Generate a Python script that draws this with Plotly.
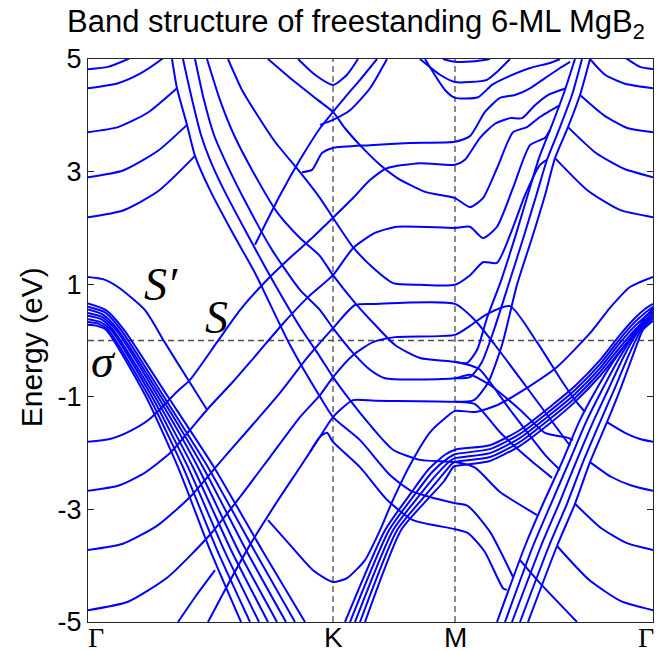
import plotly.graph_objects as go

# ---------------- axes / labels ----------------
# k-path coordinate (arbitrary units proportional to path length)
path_ticks = [0, 245, 367, 565]
path_labels = ["Γ", "K", "M", "Γ"]
energy_ticks = [-5, -3, -1, 1, 3, 5]
energy_labels = ["-5", "-3", "-1", "1", "3", "5"]

# ---------------- band data (k, E in eV) ----------------
# free-electron-like parabolas at left Γ (upper)
gk_upper_k = [[0, 20, 40, 47], [0, 30, 52, 74, 80], [0, 30, 60, 89], [0, 35, 70, 99], [0, 35, 70, 107]]
gk_upper_e = [[4.82, 4.86, 5.0, 5.06], [4.48, 4.57, 4.74, 5.0, 5.09], [3.70, 3.79, 4.05, 4.48],
              [2.90, 3.02, 3.37, 3.83], [2.19, 2.31, 2.65, 3.28]]

# rising (lower-cone) bands, Γ -> K -> M -> (toward Γ)
rise_k = [
    [167, 192, 212, 232, 245, 257, 272, 289],
    [0, 22, 42, 62, 89, 102, 129, 152, 177, 202, 224, 245, 265, 282, 299, 332, 367, 377, 392, 407, 422, 434, 447, 460, 478],
    [0, 30, 55, 82, 102, 119, 144, 169, 194, 220, 245, 265, 287, 309, 367, 382, 395, 409, 425, 442, 457, 462],
    [0, 35, 70, 102, 132, 162, 192, 219, 245, 267, 287, 367, 387, 407, 437, 472, 482],
    [0, 40, 80, 122, 152, 182, 212, 232, 245, 265, 285, 307, 367, 382, 399, 422, 449, 472, 487, 497],
    [120, 137, 162, 187, 212, 232, 245, 265, 287, 367, 387, 412, 442, 464],
]
rise_e = [
    [1.70, 2.58, 3.21, 3.77, 4.06, 4.32, 4.63, 5.00],
    [-1.80, -1.75, -1.61, -1.39, -0.91, -0.70, -0.03, 0.54, 1.04, 1.47, 1.82, 2.18, 2.53, 2.85, 3.06, 3.15, 3.12, 3.21, 3.60, 3.85, 3.95, 3.95, 4.18, 4.36, 4.48],
    [-2.67, -2.58, -2.37, -2.00, -1.59, -1.23, -0.75, -0.24, 0.28, 0.77, 1.16, 1.64, 1.91, 2.02, 2.00, 2.02, 1.82, 2.02, 2.71, 3.47, 3.60, 3.74],
    [-3.72, -3.61, -3.28, -2.78, -2.16, -1.55, -0.93, -0.31, 0.22, 0.63, 0.65, 0.65, 0.36, -0.08, -0.79, -1.63, -1.87],
    [-4.79, -4.64, -4.20, -3.45, -2.78, -2.07, -1.36, -0.97, -0.65, -0.26, -0.03, 0.06, 0.10, 0.26, 0.47, 0.61, -0.03, -0.67, -1.06, -1.27],
    [-5.00, -4.43, -3.63, -2.92, -2.25, -1.71, -1.36, -1.06, -1.07, -1.09, -1.13, -1.63, -2.12, -2.44],
]

# descending (upper-cone) bands, top of Γ-K -> K -> M -> (toward Γ)
desc_k = [
    [180, 207, 230, 245, 257, 272, 292, 309, 337, 367, 382, 395, 409, 425, 439, 452, 472],
    [140, 154, 168, 187, 212, 232, 245, 265, 285, 305, 332, 367, 382, 395, 409, 422, 437, 452, 459],
    [119, 132, 146, 164, 189, 212, 232, 245, 267, 287, 307, 332, 367, 382, 392, 422, 457, 472],
    [107, 116, 126, 139, 159, 184, 212, 232, 245, 265, 282, 297, 367, 382, 402, 432, 457, 480, 485],
    [95, 103, 113, 122, 136, 158, 182, 212, 232, 245, 262, 282, 305, 332, 367, 387, 412, 449],
    [84, 89, 99, 107, 122, 144, 167, 202, 232, 245, 272, 302, 322, 342, 367, 380, 402, 425],
]
desc_e = [
    [5.00, 4.59, 4.27, 4.06, 3.77, 3.47, 3.12, 2.89, 2.64, 2.53, 2.37, 2.53, 3.06, 3.70, 3.79, 3.97, 4.18],
    [5.00, 4.45, 4.04, 3.53, 2.99, 2.53, 2.18, 1.66, 1.29, 1.02, 0.99, 0.99, 1.16, 1.39, 1.38, 1.87, 2.58, 3.12, 3.21],
    [5.00, 4.27, 3.65, 3.03, 2.28, 1.82, 1.50, 1.16, 0.67, 0.28, -0.08, -0.31, -0.38, -0.44, -0.52, -1.23, -2.03, -2.30],
    [5.00, 4.27, 3.65, 3.12, 2.41, 1.61, 0.90, 0.54, 0.22, -0.22, -0.52, -0.67, -0.67, -0.61, -0.79, -1.23, -1.64, -1.73, -1.77],
    [5.00, 4.36, 3.65, 3.21, 2.67, 1.93, 1.15, 0.24, -0.29, -0.65, -1.06, -1.50, -1.94, -2.12, -2.16, -2.26, -2.69, -3.10],
    [5.00, 4.48, 3.83, 3.28, 2.67, 1.93, 1.20, -0.08, -1.00, -1.36, -1.77, -2.39, -2.66, -2.78, -2.89, -2.94, -3.40, -4.20],
]

# other bands around K and M
kregion_k = [
    [232, 245, 262, 282, 299],
    [210, 227, 245, 259, 270],
    [214, 224, 234, 245, 282, 322, 367, 382, 397, 412, 427, 442, 457, 472, 482],
    [222, 232, 239, 245, 272, 299, 325, 367, 380, 397, 415, 419],
    [180, 202, 225, 245, 259, 277, 292, 305, 322, 342, 357, 367, 387, 409, 439, 469, 502, 522, 542, 565],
    [0, 15, 30, 57, 77, 97, 119],
]
kregion_e = [
    [3.83, 3.92, 4.09, 4.48, 5.00],
    [5.00, 4.72, 4.54, 4.72, 5.00],
    [2.99, 3.03, 3.33, 3.42, 3.47, 3.51, 3.53, 3.63, 4.06, 4.31, 4.36, 4.48, 4.66, 4.84, 4.95],
    [-1.98, -1.71, -1.64, -1.80, -2.25, -2.83, -3.19, -3.35, -3.42, -3.76, -4.40, -4.43],
    [-3.19, -3.63, -4.08, -4.29, -4.22, -3.90, -3.37, -2.83, -2.21, -1.63, -1.38, -1.25, -1.27, -1.15, -0.84, -0.47, 0.13, 0.58, 0.95, 1.13],
    [1.13, 1.09, 0.95, 0.54, -0.04, -0.61, -1.23],
]

# bands near the top of M-Γ and steep lines
mg_upper_k = [
    [355, 367, 387, 402],
    [332, 352, 367, 382, 399, 409, 422],
    [337, 357, 367, 390, 404, 417, 442, 462, 472],
    [367, 386, 400, 414, 429, 444, 457, 467, 480, 492, 502],
    [367, 382, 394, 406, 421, 436, 449, 459, 472, 484, 494],
    [367, 379, 389, 399, 413, 428, 441, 451, 464, 476, 487],
]
mg_upper_e = [
    [5.0, 4.95, 4.96, 5.0],
    [5.0, 4.72, 4.59, 4.59, 4.63, 4.77, 5.0],
    [5.0, 4.45, 4.31, 4.32, 4.54, 4.66, 4.84, 4.93, 5.0],
    [-1.09, -1.06, -0.75, -0.08, 0.99, 1.82, 2.58, 3.24, 3.79, 4.36, 5.00],
    [-0.67, -0.65, -0.38, 0.19, 1.02, 1.86, 2.62, 3.21, 3.79, 4.36, 5.00],
    [-0.38, -0.40, -0.17, 0.40, 1.06, 1.89, 2.66, 3.24, 3.83, 4.40, 5.00],
]

# parabolas at right Γ
mg_gamma_k = [[565, 552, 539, 532], [565, 537, 517, 502], [565, 540, 516, 492], [565, 536, 508, 480],
              [565, 532, 500, 467], [565, 552, 537, 519], [565, 544, 523, 502], [565, 539, 513, 487],
              [565, 533, 501, 469]]
mg_gamma_e = [[4.82, 4.86, 5.0, 5.07], [4.48, 4.56, 4.72, 5.0], [3.70, 3.77, 4.00, 4.36], [2.90, 3.05, 3.33, 3.79],
              [2.19, 2.32, 2.66, 3.24], [-1.80, -1.75, -1.64, -1.45], [-2.67, -2.58, -2.42, -2.16],
              [-3.72, -3.60, -3.33, -2.90], [-4.79, -4.63, -4.25, -3.65]]

# sigma bands Γ -> K
sigma_gk_k = [[0, 9, 18, 58, 90, 122, 153], [0, 10, 20, 61, 95, 129, 162], [0, 12, 23, 64, 100, 136, 171],
              [0, 13, 25, 67, 105, 143, 180], [0, 14, 28, 70, 110, 150, 189], [0, 15, 30, 73, 115, 158, 198],
              [0, 17, 33, 76, 120, 166, 207], [0, 18, 36, 80, 126, 174, 217]]
sigma_gk_e = [[0.28, 0.26, 0.19, -1.0, -2.25, -3.72, -5.0], [0.33, 0.30, 0.19, -1.0, -2.25, -3.72, -5.0],
              [0.38, 0.33, 0.19, -1.0, -2.25, -3.72, -5.0], [0.44, 0.38, 0.19, -1.0, -2.25, -3.72, -5.0],
              [0.49, 0.42, 0.19, -1.0, -2.25, -3.72, -5.0], [0.55, 0.46, 0.19, -1.0, -2.25, -3.72, -5.0],
              [0.60, 0.50, 0.19, -1.0, -2.25, -3.72, -5.0], [0.66, 0.54, 0.19, -1.0, -2.25, -3.72, -5.0]]

# sigma bands K -> M -> Γ (light)
sigma_kmg_k = [[257, 297, 323, 340, 357, 367, 402, 432, 462, 487, 512, 532, 547, 557, 565],
               [262, 301, 327, 344, 360, 367, 402, 432, 462, 487, 512, 532, 547, 557, 565],
               [267, 305, 331, 348, 362, 367, 402, 432, 462, 487, 512, 532, 547, 557, 565],
               [272, 309, 335, 352, 364, 367, 402, 432, 462, 487, 512, 532, 547, 557, 565],
               [277, 313, 339, 356, 365, 367, 402, 432, 462, 487, 512, 532, 547, 557, 565]]
sigma_kmg_e = [[-5.0, -3.37, -2.71, -2.30, -2.03, -1.94, -1.86, -1.59, -1.18, -0.81, -0.35, 0.10, 0.40, 0.56, 0.65],
               [-5.0, -3.37, -2.73, -2.34, -2.09, -2.02, -1.93, -1.66, -1.25, -0.88, -0.42, 0.03, 0.33, 0.49, 0.60],
               [-5.0, -3.37, -2.76, -2.39, -2.14, -2.09, -2.00, -1.73, -1.32, -0.95, -0.49, -0.04, 0.26, 0.42, 0.54],
               [-5.0, -3.37, -2.80, -2.44, -2.19, -2.16, -2.07, -1.80, -1.39, -1.02, -0.56, -0.12, 0.19, 0.36, 0.49],
               [-5.0, -3.37, -2.83, -2.50, -2.25, -2.23, -2.14, -1.87, -1.47, -1.09, -0.63, -0.19, 0.12, 0.31, 0.44]]

# sigma bands M -> Γ (heavy, steep)
sigma_mg_k = [[409, 437, 455, 474, 491, 508, 525, 543, 557, 565],
              [417, 445, 463, 481, 498, 514, 530, 546, 558, 565],
              [424, 453, 471, 488, 505, 520, 535, 549, 559, 565],
              [432, 461, 479, 495, 512, 526, 540, 552, 560, 565],
              [440, 469, 487, 502, 519, 532, 545, 555, 561, 565]]
sigma_mg_e = [[-5.0, -3.65, -2.90, -2.16, -1.45, -0.88, -0.38, 0.06, 0.40, 0.58],
              [-5.0, -3.65, -2.90, -2.16, -1.45, -0.88, -0.35, 0.10, 0.36, 0.51],
              [-5.0, -3.65, -2.90, -2.16, -1.45, -0.88, -0.31, 0.13, 0.33, 0.45],
              [-5.0, -3.65, -2.90, -2.16, -1.45, -0.88, -0.29, 0.15, 0.31, 0.40],
              [-5.0, -3.65, -2.90, -2.16, -1.45, -0.88, -0.26, 0.19, 0.29, 0.35]]

# short extra pieces near the bottom
extra_k = [[432, 452, 489], [90, 107, 127]]
extra_e = [[-3.90, -4.31, -5.0], [-5.0, -4.56, -4.08]]

# ---------------- figure ----------------
fig = go.Figure()
groups = [(gk_upper_k, gk_upper_e), (rise_k, rise_e), (desc_k, desc_e), (kregion_k, kregion_e),
          (mg_upper_k, mg_upper_e), (mg_gamma_k, mg_gamma_e), (sigma_gk_k, sigma_gk_e),
          (sigma_kmg_k, sigma_kmg_e), (sigma_mg_k, sigma_mg_e), (extra_k, extra_e)]
for ks, es in groups:
    for k, e in zip(ks, es):
        fig.add_trace(go.Scatter(x=k, y=e, mode="lines",
                                 line=dict(color="#0000ff", width=2, shape="spline", smoothing=0.6),
                                 hoverinfo="skip", showlegend=False))

dash_col = "#4d4d4d"
fig.add_shape(type="line", xref="x", yref="y", x0=path_ticks[1], x1=path_ticks[1], y0=-5, y1=5,
              line=dict(color=dash_col, width=1.3, dash="6px,4px"), layer="below")
fig.add_shape(type="line", xref="x", yref="y", x0=path_ticks[2], x1=path_ticks[2], y0=-5, y1=5,
              line=dict(color=dash_col, width=1.3, dash="6px,4px"), layer="below")
fig.add_shape(type="line", xref="x", yref="y", x0=0, x1=path_ticks[3], y0=0, y1=0,
              line=dict(color=dash_col, width=1.3, dash="6px,4px"), layer="below")

axis_col = "#262626"
fig.update_xaxes(range=[0, 565], showline=True, linecolor=axis_col, linewidth=1, mirror=True,
                 showgrid=False, zeroline=False, showticklabels=False, ticks="")
fig.update_yaxes(range=[-5, 5], showline=True, linecolor=axis_col, linewidth=1, mirror="ticks",
                 showgrid=False, zeroline=False, tickvals=energy_ticks, ticktext=energy_labels,
                 ticks="inside", ticklen=6, tickcolor=axis_col,
                 tickfont=dict(family="Liberation Sans, Arial, sans-serif", size=27, color="#000"))

# x tick labels (high-symmetry points)
xlab_pos = [8, 245, 367, 558]
for pos, lab in zip(xlab_pos, path_labels):
    fam = "Liberation Serif, Times New Roman, serif" if lab == "Γ" else "Liberation Sans, Arial, sans-serif"
    fig.add_annotation(x=pos, y=-0.027, xref="x", yref="paper", text=lab, showarrow=False,
                       xanchor="center", yanchor="middle", font=dict(family=fam, size=28, color="#000"))

fig.add_annotation(x=0.474, y=1.062, xref="paper", yref="paper",
                   text="Band structure of freestanding 6-ML MgB<sub>2</sub>", showarrow=False,
                   xanchor="center", yanchor="middle",
                   font=dict(family="Liberation Sans, Arial, sans-serif", size=31, color="#000"))
fig.add_annotation(x=-0.100, y=0.487, xref="paper", yref="paper", text="Energy (eV)", textangle=-90,
                   showarrow=False, xanchor="center", yanchor="middle",
                   font=dict(family="Liberation Sans, Arial, sans-serif", size=30, color="#000"))

serif = "Liberation Serif, Times New Roman, serif"
fig.add_annotation(x=73, y=1.00, xref="x", yref="y", text="<i>S′</i>", showarrow=False,
                   font=dict(family=serif, size=46, color="#000"))
fig.add_annotation(x=128, y=0.40, xref="x", yref="y", text="<i>S</i>", showarrow=False,
                   font=dict(family=serif, size=46, color="#000"))
fig.add_annotation(x=15, y=-0.38, xref="x", yref="y", text="<i>σ</i>", showarrow=False,
                   font=dict(family=serif, size=46, color="#000"))

fig.update_layout(width=657, height=652, margin=dict(l=88, r=4, t=59, b=30),
                  plot_bgcolor="white", paper_bgcolor="white", showlegend=False)

fig.write_html("out.html")
